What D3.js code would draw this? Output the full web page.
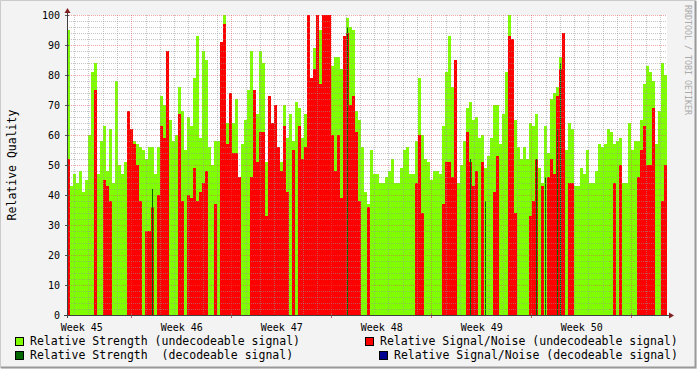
<!DOCTYPE html>
<html><head><meta charset="utf-8">
<script src="https://cdn.jsdelivr.net/npm/d3@7"></script>
<style>body{margin:0;background:#f3f3f3}svg{display:block}text{font-family:"DejaVu Sans Mono",monospace}</style>
</head><body>
<svg id="c" width="697" height="369"></svg>
<script>
// Relative Strength (undecodeable signal), one value per column (~5 h each), 6 weeks
const strength = [95,43,47,44,48,41,45,60,81,84,47,58,63,48,62,44,78,50,47,51,
59,60,58,57,56,55,52,56,56,47,56,73,70,44,65,58,60,76,68,55,
66,63,79,93,59,88,85,56,50,58,58,55,100,64,64,64,72,44,57,65,
75,88,61,67,88,84,51,64,61,58,54,51,70,59,67,58,71,69,59,67,
69,74,89,93,95,100,100,100,83,86,86,82,59,99,96,95,68,65,56,41,
37,55,47,47,44,44,46,48,52,44,44,49,55,56,47,47,58,79,60,52,
51,45,48,48,47,63,81,93,76,80,44,50,58,69,71,65,66,59,60,49,
53,59,70,70,57,67,81,100,0,65,56,52,56,52,64,63,67,49,44,63,
54,72,74,76,86,94,55,64,62,43,43,49,47,55,44,44,48,57,56,57,
62,61,57,58,59,44,44,64,55,58,58,65,77,83,81,78,57,68,84,80];
// Relative Signal/Noise (undecodeable signal), 0 = none
const snr = [52,0,0,0,0,0,0,0,0,75,0,0,45,43,38,0,0,0,0,0,
68,62,57,50,38,0,28,28,36,0,40,63,59,88,0,0,0,67,38,0,
40,39,49,38,41,44,48,0,0,37,0,91,97,57,74,54,54,46,0,0,
0,46,75,51,61,61,33,73,64,70,56,48,63,41,0,55,0,63,52,56,
100,79,82,100,77,100,100,100,60,48,60,39,93,94,70,73,61,38,0,0,
36,0,0,0,0,0,0,0,0,0,0,0,0,0,0,0,44,60,34,0,
0,0,0,0,0,37,51,51,46,85,0,0,0,61,51,43,48,0,51,0,
0,0,41,53,0,0,0,93,92,34,0,0,0,0,33,38,52,0,43,0,
46,52,47,73,82,94,0,44,44,0,0,0,0,0,0,0,0,0,0,0,
0,0,44,0,50,0,0,0,0,0,46,55,63,50,50,69,0,0,38,50];
// Relative Strength (decodeable signal): sparse [column, value]
const decStrengthCols = [28,93,134,139,156,159,163,164];
const decStrengthVals = [42,96,52,38,52,46,62,84];
// Relative Signal/Noise (decodeable signal): none visible
const decSnrCols = [];
const decSnrVals = [];
const yTicks = [0,10,20,30,40,50,60,70,80,90,100];
const weekLabels = ["Week 45","Week 46","Week 47","Week 48","Week 49","Week 50"];
const legendItems = ["Relative Strength (undecodeable signal)","Relative Strength  (decodeable signal)",
  "Relative Signal/Noise (undecodeable signal)","Relative Signal/Noise (decodeable signal)"];

const totalDays = 42, firstMidnight = 0.5;
const nCols = strength.length, colDays = totalDays / nCols;
const svg = d3.select("#c");
const L = 67, R = 667, T = 15, B = 315;
const x = d3.scaleLinear().domain([0, totalDays]).range([L, R]);
const y = d3.scaleLinear().domain([0, 100]).range([B, T]);

// frame
svg.append("rect").attr("x",0).attr("y",0).attr("width",697).attr("height",369).attr("fill","#f3f3f3");
svg.append("path").attr("d","M0.5,368 V0.5 H696").attr("stroke","#cbcbcb").attr("fill","none");
svg.append("path").attr("d","M1,367.5 H695.5 V1").attr("stroke","#999").attr("stroke-width",2).attr("fill","none");
svg.append("rect").attr("x",L).attr("y",T).attr("width",R-L).attr("height",B-T).attr("fill","#fff");

const colG = "#80ff00", colR = "#ff0000", colDG = "#006600", colB = "#000090";
const cx0 = j => x(j*colDays), cw = j => x((j+1)*colDays) - x(j*colDays);

svg.append("g").selectAll("rect").data(strength.map((v,j)=>[j,v]).filter(d=>d[1]>0)).join("rect")
  .attr("x",d=>cx0(d[0])).attr("width",d=>cw(d[0])).attr("y",d=>y(d[1])).attr("height",d=>B-y(d[1]))
  .attr("fill",colG).attr("shape-rendering","crispEdges");
svg.append("g").selectAll("rect").data(snr.map((v,j)=>[j,v]).filter(d=>d[1]>0)).join("rect")
  .attr("x",d=>cx0(d[0])).attr("width",d=>cw(d[0])).attr("y",d=>y(d[1])).attr("height",d=>B-y(d[1]))
  .attr("fill",colR).attr("shape-rendering","crispEdges");
svg.append("g").selectAll("rect").data(decStrengthCols.map((c,i)=>[c,decStrengthVals[i]])).join("rect")
  .attr("x",d=>cx0(d[0])+1).attr("width",1).attr("y",d=>y(d[1])).attr("height",d=>B-y(d[1]))
  .attr("fill",colDG).attr("shape-rendering","crispEdges");
svg.append("g").selectAll("rect").data(decSnrCols.map((c,i)=>[c,decSnrVals[i]])).join("rect")
  .attr("x",d=>cx0(d[0])+1).attr("width",1).attr("y",d=>y(d[1])).attr("height",d=>B-y(d[1]))
  .attr("fill",colB);

// grid
const g = svg.append("g").attr("shape-rendering","crispEdges");
const minorY = d3.range(0, 101, 2).filter(v => v % 10 !== 0);
minorY.forEach(v => g.append("line").attr("x1",L).attr("x2",R).attr("y1",Math.round(y(v))+0.5).attr("y2",Math.round(y(v))+0.5)
  .attr("stroke","rgba(150,150,150,0.55)").attr("stroke-dasharray","1,1"));
const days = d3.range(firstMidnight, totalDays, 1);
days.forEach((d,i) => {
  const major = (i % 7) === 4;
  g.append("line").attr("x1",Math.round(x(d))+0.5).attr("x2",Math.round(x(d))+0.5).attr("y1",T).attr("y2",B)
   .attr("stroke", major ? "rgba(224,80,80,0.5)" : "rgba(150,150,150,0.55)").attr("stroke-dasharray","1,1");
});
yTicks.filter(v=>v>0).forEach(v => g.append("line").attr("x1",L).attr("x2",R).attr("y1",Math.round(y(v))+0.5).attr("y2",Math.round(y(v))+0.5)
  .attr("stroke","rgba(224,80,80,0.5)").attr("stroke-dasharray","1,1"));

// axes
const yAxis = d3.axisLeft(y).tickValues(yTicks).tickSize(0).tickPadding(7).tickFormat(d3.format("d"));
const ya = svg.append("g").attr("transform",`translate(${L},0)`).call(yAxis);
ya.select(".domain").remove();
ya.selectAll("text").attr("font-size","10px").attr("font-family","DejaVu Sans Mono").attr("fill","#000").attr("dy","0.35em");
yTicks.forEach(v => svg.append("line").attr("x1",L-2).attr("x2",L+2).attr("y1",Math.round(y(v))+0.5).attr("y2",Math.round(y(v))+0.5).attr("stroke","#555"));

const weekLines = days.filter((d,i)=> i%7===4);
const labelPos = weekLines.map(d => d - 3.5);
const xAxis = d3.axisBottom(x).tickValues(labelPos).tickSize(0).tickPadding(9).tickFormat((d,i)=>weekLabels[i]);
const xa = svg.append("g").attr("transform",`translate(0,${B})`).call(xAxis);
xa.select(".domain").remove();
xa.selectAll("text").attr("font-size","10px").attr("font-family","DejaVu Sans Mono").attr("fill","#000");
weekLines.forEach(d => svg.append("line").attr("x1",Math.round(x(d))+0.5).attr("x2",Math.round(x(d))+0.5).attr("y1",B-2).attr("y2",B+3).attr("stroke","#c06060"));

svg.append("line").attr("x1",L+0.5).attr("x2",L+0.5).attr("y1",B+3).attr("y2",10).attr("stroke","#404040");
svg.append("line").attr("x1",L-3).attr("x2",R+4).attr("y1",B+0.5).attr("y2",B+0.5).attr("stroke","#404040");
svg.append("path").attr("d",`M${L-2.5},${13} L${L+0.5},${8} L${L+3.5},${13} Z`).attr("fill","#7f1f1f");
svg.append("path").attr("d",`M${R+2},${B-2.5} L${R+7},${B+0.5} L${R+2},${B+3.5} Z`).attr("fill","#7f1f1f");

// titles
svg.append("text").attr("transform","translate(16,165) rotate(-90)").attr("text-anchor","middle")
  .attr("font-size","11.5px").text("Relative Quality");
svg.append("text").attr("transform","translate(685,5) rotate(90)").attr("font-size","8.3px").attr("fill","#aaa")
  .text("RRDTOOL / TOBI OETIKER");

// legend
const legPos = [[15,337,30,345],[15,351,30,359],[365,337,380,345],[379,351,394,359]];
const legCols = [colG, colDG, colR, colB];
legendItems.forEach((t,i) => {
  const p = legPos[i];
  svg.append("rect").attr("x",p[0]+0.5).attr("y",p[1]+0.5).attr("width",8).attr("height",8).attr("fill",legCols[i]).attr("stroke","#000");
  svg.append("text").attr("x",p[2]).attr("y",p[3]).attr("font-size","11.5px").attr("xml:space","preserve").style("white-space","pre").text(t);
});
</script>
</body></html>
